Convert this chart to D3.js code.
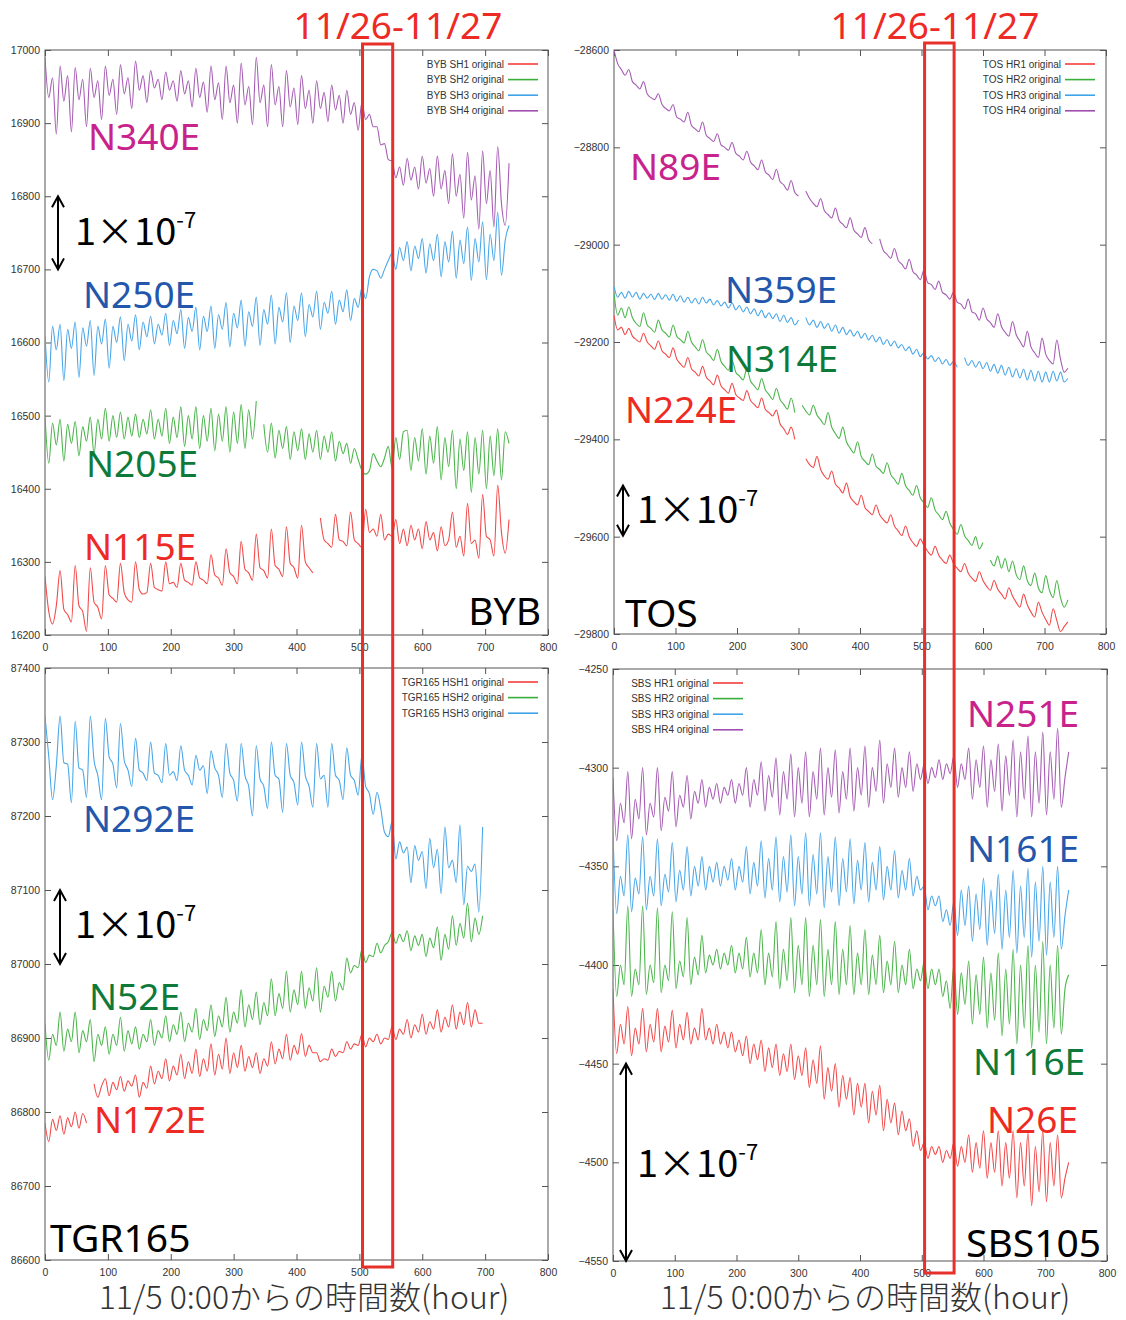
<!DOCTYPE html>
<html>
<head>
<meta charset="utf-8">
<script src="https://cdn.jsdelivr.net/npm/d3@7"></script>
<style>
  body { margin: 0; background: #fff; }
  svg { display: block; }
</style>
</head>
<body>
<svg id="chart" width="1126" height="1320"></svg>
<script>
// sample grid (hours since 11/5 0:00), one reading every 6 h
const hours = d3.range(0, 744, 6);     // 0 .. 738
const hoursTGR = d3.range(0, 702, 6);  // 0 .. 696
const xTicks = d3.range(0, 801, 100);

// ---- BYB ----
const bybSH1 = [
  16280,16232,16215,16240,16288,16235,16228,16218,16295,16240,16232,16205,
  16292,16245,16238,16222,16295,16255,16250,16245,16298,16258,16248,16245,
  16300,16262,16256,16258,16298,16265,16262,16260,16300,16270,16272,16265,
  16298,16275,16272,16268,16300,16278,16275,16270,16310,16282,16278,16268,
  16318,16285,16280,16270,16328,16290,16285,16275,16338,16292,16288,16278,
  16345,16295,16290,16280,16348,16298,16292,16278,16350,16300,16292,16285,
  null,16360,16330,16325,16320,16365,16330,16328,16322,16368,16330,16325,
  16320,16372,16340,16345,16335,16365,16330,16338,16335,16358,16325,16345,
  16322,16350,16330,16345,16318,16355,16330,16340,16315,16348,16322,16330,
  16368,16320,16335,16308,16380,16325,16330,16305,16392,16335,16330,16308,
  16405,16340,16312,16358];
const bybSH2 = [
  16500,16435,16490,16460, 16495,16438,16488,16462, 16492,16445,16485,16465, 16498,16448,16495,16468,
  16510,16465,16500,16470, 16505,16468,16498,16472, 16502,16470,16495,16475, 16508,16468,16495,16472,
  16510,16462,16498,16470, 16512,16458,16500,16468, 16512,16455,16500,16465, 16510,16452,16502,16465,
  16512,16450,16505,16462, 16515,16455,16508,16468, 16520,null,16488,16450, 16490,16442,16480,16455,
  16485,16440,16478,16452, 16482,16440,16475,16450, 16480,16440,16472,16450, 16478,16438,16465,16448,
  16462,16435,16455,16440, 16425,16420,16425,16448, 16438,16430,16442,16458, 16428,16470,16440,16478,
  16480,16425,16470,16438, 16482,16420,16472,16435, 16485,16412,16470,16430, 16480,16400,16468,16425,
  16478,16395,16470,16420, 16480,16400,16472,16418, 16482,16412,16478,16462];
const bybSH3 = [
  16610,16546,16622,16590, 16625,16548,16618,16592, 16628,16552,16620,16595, 16630,16555,16622,16598,
  16632,16565,16622,16600, 16635,16575,16625,16602, 16638,16590,16628,16608, 16636,16598,16625,16610,
  16640,16596,16630,16612, 16645,16592,16634,16615, 16648,16590,16636,16615, 16650,16592,16638,16618,
  16655,16594,16640,16620, 16658,16595,16642,16622, 16662,16596,16645,16625, 16665,16598,16648,16628,
  16668,16600,16650,16630, 16668,16608,16652,16635, 16670,16618,16655,16640, 16670,16625,16658,16642,
  16672,16630,16660,16648, 16675,16660,16690,16700, 16698,16688,16700,16712, 16722,16700,16730,16712,
  16738,16698,16732,16715, 16742,16695,16735,16712, 16748,16690,16738,16710, 16752,16688,16740,16708,
  16758,16685,16742,16710, 16765,16686,16748,16712, 16778,16692,16740,16760];
const bybSH4 = [
  16990,16935,16962,16885, 16978,16930,16965,16888, 16976,16932,16960,16895, 16975,16935,16958,16905,
  16978,16938,16960,16912, 16980,16940,16962,16920, 16985,16945,16965,16928, 16972,16948,16960,16932,
  16970,16945,16958,16930, 16972,16940,16958,16922, 16975,16935,16956,16915, 16978,16932,16955,16905,
  16978,16928,16952,16900, 16982,16925,16950,16898, 16990,16928,16952,16895, 16980,16925,16950,16895,
  16972,16922,16948,16898, 16965,16920,16945,16900, 16958,16920,16942,16902, 16952,16918,16938,16900,
  16945,16912,16928,16890, 16928,16905,16912,16895, 16895,16870,16872,16850, 16848,16825,16840,16815,
  16852,16822,16840,16810, 16855,16818,16838,16800, 16855,16810,16835,16790, 16858,16800,16830,16770,
  16860,16795,16828,16755, 16862,16790,16835,16758, 16868,16790,16760,16845];

// ---- TOS ----
const tosHR1 = [
  -29145,-29175,-29170,-29185,-29172,-29188,-29195,-29200,-29182,-29200,-29208,-29215,
  -29198,-29218,-29225,-29232,-29212,-29235,-29245,-29252,-29232,-29255,-29262,-29270,
  -29250,-29272,-29280,-29288,-29268,-29290,-29298,-29305,-29285,-29308,-29315,-29320,
  -29300,-29320,-29328,-29335,-29315,-29338,-29345,-29352,-29340,-29368,-29378,-29390,
  -29375,-29400,null,null,-29440,-29452,-29458,-29435,-29462,-29475,-29482,-29465,
  -29492,-29500,-29510,-29490,-29518,-29528,-29535,-29515,-29540,-29548,-29555,-29535,
  -29555,-29565,-29572,-29555,-29578,-29588,-29598,-29578,-29600,-29612,-29620,-29605,
  -29618,-29630,-29638,-29620,-29638,-29648,-29655,-29638,-29655,-29665,-29672,-29655,
  -29675,-29685,-29692,-29672,-29690,-29702,-29710,-29690,-29708,-29718,-29728,-29705,
  -29722,-29735,-29745,-29718,-29740,-29755,-29765,-29735,-29755,-29770,-29782,-29748,
  -29772,-29795,-29785,-29775];
const tosHR2 = [
  -29100,-29145,-29130,-29150,-29128,-29150,-29162,-29168,-29140,-29165,-29172,-29180,
  -29155,-29175,-29182,-29190,-29165,-29188,-29195,-29202,-29178,-29200,-29210,-29218,
  -29195,-29220,-29228,-29238,-29215,-29240,-29250,-29258,-29238,-29262,-29270,-29278,
  -29255,-29280,-29290,-29298,-29275,-29298,-29308,-29318,-29295,-29318,-29328,-29338,
  -29315,-29345,null,-29330,-29342,-29350,-29330,-29350,-29360,-29370,-29345,-29375,
  -29388,-29398,-29375,-29405,-29418,-29428,-29405,-29435,-29445,-29452,-29430,-29455,
  -29462,-29470,-29448,-29472,-29482,-29492,-29470,-29495,-29505,-29515,-29495,-29520,
  -29530,-29540,-29520,-29545,-29555,-29565,-29548,-29572,-29585,-29595,-29575,-29598,
  -29608,-29618,-29600,-29625,-29612,null,-29648,-29660,-29640,-29665,-29645,-29672,
  -29650,-29678,-29688,-29660,-29690,-29700,-29675,-29705,-29715,-29680,-29710,-29725,
  -29690,-29725,-29745,-29730];
const tosHR3 = [
  -29085,-29108,-29098,-29110,-29096,-29108,-29098,-29112,-29100,-29110,-29102,-29113,
  -29100,-29112,-29103,-29114,-29102,-29116,-29105,-29118,-29108,-29120,-29110,-29122,
  -29108,-29120,-29112,-29124,-29115,-29126,-29118,-29130,-29120,-29134,-29125,-29138,
  -29128,-29142,-29132,-29146,-29135,-29150,-29140,-29152,-29142,-29158,-29145,-29160,
  -29150,-29165,-29155,null,-29150,-29165,-29155,-29170,-29158,-29172,-29162,-29178,
  -29165,-29182,-29170,-29185,-29175,-29188,-29178,-29192,-29182,-29196,-29186,-29200,
  -29190,-29205,-29195,-29208,-29198,-29212,-29205,-29218,-29210,-29225,-29215,-29230,
  -29222,-29235,-29228,-29240,-29232,-29245,-29236,-29248,-29240,-29252,null,-29232,
  -29248,-29238,-29252,-29240,-29255,-29242,-29260,-29246,-29264,-29248,-29268,-29252,
  -29272,-29255,-29274,-29256,-29278,-29258,-29280,-29260,-29282,-29262,-29282,-29260,
  -29280,-29262,-29282,-29275];
const tosHR4 = [
  -28600,-28628,-28640,-28652,-28640,-28665,-28672,-28680,-28665,-28690,-28698,-28702,
  -28690,-28712,-28720,-28725,-28712,-28738,-28742,-28748,-28728,-28755,-28762,-28768,
  -28748,-28775,-28782,-28788,-28772,-28795,-28800,-28806,-28790,-28812,-28818,-28826,
  -28808,-28830,-28838,-28846,-28826,-28850,-28857,-28866,-28845,-28870,-28877,-28888,
  -28868,-28893,-28900,null,-28890,-28905,-28915,-28922,-28905,-28930,-28938,-28945,
  -28925,-28950,-28958,-28965,-28945,-28970,-28978,-28985,-28965,-28990,-28998,null,
  -28988,-29012,-29020,-29028,-29008,-29032,-29040,-29050,-29030,-29055,-29062,-29072,
  -29052,-29078,-29082,-29092,-29075,-29098,-29103,-29112,-29098,-29118,-29122,-29132,
  -29112,-29138,-29142,-29155,-29130,-29152,-29160,-29170,-29142,-29168,-29180,-29188,
  -29158,-29185,-29198,-29210,-29178,-29210,-29222,-29232,-29192,-29225,-29238,-29245,
  -29196,-29235,-29262,-29254];

// ---- TGR165 (ends at 700 h) ----
const tgrHSH1 = [
  86785,86760,86790,86775, 86795,86770,86792,86780, 86800,86778,86798,86785, null,86838,86820,86835,
  86845,86822,86840,86830, 86848,86828,86842,86835, 86850,86820,86840,86832, 86862,86838,86855,86845,
  86872,86842,86862,86850, 86878,86845,86868,86852, 86885,86848,86872,86855, 86892,86850,86878,86858,
  86900,86852,86880,86860, 86890,86855,86875,86860, 86880,86852,86872,86862, 86895,86865,86885,86872,
  86905,86870,86890,86878, 86906,86875,86890,86880, 86880,86868,86872,86870, 86885,86875,86882,86880,
  86895,86885,86892,86890, 86905,86888,86900,86895, 86905,86892,86900,86898, 86915,86898,86912,86905,
  86925,86900,86918,86908, 86932,86905,86922,86912, 86938,86908,86928,86915, 86945,86912,86935,86918,
  86948,86915,86938,86920, 86920];
const tgrHSH2 = [
  86920,86870,86905,86890, 86935,86882,86912,86895, 86935,86880,86910,86895, 86925,86868,86905,86890,
  86915,86878,86905,86890, 86928,86882,86910,86892, 86915,86885,86905,86895, 86925,86890,86910,86900,
  86930,86895,86918,86905, 86935,86895,86920,86908, 86940,86898,86925,86910, 86945,86902,86930,86915,
  86955,86908,86935,86920, 86965,86915,86945,86925, 86962,86918,86948,86930, 86980,86930,86960,86940,
  86990,86935,86965,86945, 86990,86940,86968,86950, 86995,86935,86970,86955, 86990,86950,86975,86965,
  87008,86988,86998,86995, 87020,87002,87012,87010, 87028,87015,87025,87030, 87042,87028,87040,87030,
  87045,87018,87038,87025, 87040,87010,87035,87022, 87050,87005,87040,87020, 87065,87025,87055,87035,
  87082,87030,87062,87040, 87065];
const tgrHSH3 = [
  87335,87280,87222,87268,87335,87272,87270,87218,87328,87265,87262,87225,
  87335,87275,87255,87222,87332,87280,87270,87238,87325,87275,87262,87240,
  87305,87262,87258,87248,87300,87258,87255,87245,87298,87255,87260,87248,
  87295,87262,87255,87242,87282,87262,87268,87230,87288,87265,87255,87225,
  87298,87258,87248,87220,87298,87255,87240,87200,87295,87250,87240,87210,
  87300,87255,87250,87205,87298,87255,87245,87215,87300,87255,87240,87212,
  87298,87250,87255,87212,87298,87255,87248,87222,87292,87255,87248,87228,
  87282,87240,87230,87202,87232,87210,87178,87172,87192,87142,87165,87150,
  87158,87110,87160,87140,87152,87102,87170,87130,87155,87095,87185,87130,
  87140,87110,87188,87080,87132,87125,87135,87070,87185];

// ---- SBS105 ----
const sbsHR1 = [
  -4412,-4445,-4430,-4440, -4421,-4446,-4432,-4440, -4422,-4444,-4430,-4439, -4422,-4444,-4431,-4439,
  -4423,-4442,-4430,-4438, -4424,-4440,-4432,-4438, -4422,-4438,-4432,-4440, -4430,-4440,-4434,-4442,
  -4434,-4444,-4438,-4446, -4436,-4450,-4440,-4448, -4438,-4454,-4442,-4452, -4440,-4456,-4445,-4454,
  -4440,-4458,-4446,-4456, -4442,-4462,-4448,-4460, -4441,-4468,-4452,-4464, -4450,-4472,-4456,-4468,
  -4457,-4476,-4460,-4472, -4460,-4480,-4464,-4476, -4461,-4484,-4468,-4480, -4470,-4486,-4474,-4484,
  -4478,-4492,-4484,-4494, -4490,-4498,-4492,-4496, -4492,-4500,-4494,-4498, -4490,-4502,-4492,-4500,
  -4486,-4505,-4490,-4503, -4484,-4508,-4490,-4505, -4484,-4512,-4490,-4508, -4484,-4518,-4490,-4512,
  -4485,-4522,-4492,-4515, -4484,-4520,-4490,-4512, -4486,-4518,-4508,-4500];
const sbsHR2 = [
  -4372,-4416,-4400,-4410, -4370,-4416,-4402,-4410, -4370,-4415,-4400,-4409, -4371,-4414,-4400,-4408,
  -4373,-4412,-4398,-4406, -4376,-4410,-4396,-4405, -4385,-4404,-4395,-4400, -4392,-4402,-4394,-4400,
  -4390,-4404,-4394,-4402, -4386,-4406,-4394,-4404, -4382,-4410,-4394,-4406, -4378,-4412,-4392,-4408,
  -4376,-4414,-4390,-4410, -4376,-4416,-4390,-4410, -4377,-4416,-4392,-4410, -4378,-4415,-4392,-4410,
  -4380,-4415,-4394,-4410, -4382,-4415,-4395,-4410, -4385,-4414,-4398,-4410, -4388,-4414,-4400,-4410,
  -4392,-4412,-4402,-4408, -4398,-4412,-4402,-4410, -4402,-4416,-4408,-4422, -4400,-4425,-4404,-4420,
  -4398,-4430,-4405,-4425, -4396,-4432,-4404,-4428, -4394,-4436,-4402,-4430, -4392,-4440,-4400,-4432,
  -4390,-4442,-4400,-4434, -4388,-4440,-4400,-4432, -4390,-4435,-4412,-4405];
const sbsHR3 = [
  -4333,-4374,-4355,-4365, -4334,-4373,-4356,-4364, -4335,-4372,-4355,-4365, -4336,-4370,-4354,-4363,
  -4338,-4368,-4352,-4362, -4340,-4365,-4350,-4360, -4345,-4362,-4350,-4358, -4348,-4360,-4350,-4357,
  -4346,-4362,-4350,-4358, -4340,-4364,-4348,-4360, -4337,-4366,-4346,-4362, -4335,-4368,-4345,-4363,
  -4334,-4370,-4345,-4364, -4333,-4370,-4344,-4364, -4333,-4371,-4345,-4363, -4335,-4370,-4346,-4363,
  -4336,-4369,-4347,-4362, -4338,-4368,-4348,-4362, -4340,-4367,-4350,-4362, -4342,-4366,-4352,-4362,
  -4346,-4365,-4355,-4362, -4360,-4372,-4365,-4370, -4365,-4378,-4372,-4380, -4368,-4385,-4362,-4380,
  -4360,-4388,-4364,-4382, -4356,-4390,-4362,-4384, -4354,-4392,-4362,-4386, -4352,-4394,-4360,-4386,
  -4351,-4396,-4358,-4388, -4350,-4395,-4358,-4386, -4350,-4392,-4375,-4362];
const sbsHR4 = [
  -4305,-4337,-4318,-4328, -4302,-4336,-4316,-4326, -4300,-4334,-4318,-4325, -4300,-4332,-4315,-4322,
  -4302,-4330,-4314,-4320, -4304,-4326,-4312,-4318, -4306,-4320,-4310,-4316, -4308,-4318,-4310,-4314,
  -4306,-4318,-4308,-4314, -4300,-4320,-4306,-4314, -4297,-4322,-4304,-4315, -4295,-4324,-4302,-4316,
  -4293,-4325,-4300,-4318, -4292,-4325,-4302,-4316, -4290,-4324,-4300,-4315, -4291,-4323,-4302,-4316,
  -4290,-4322,-4300,-4314, -4289,-4320,-4300,-4312, -4286,-4318,-4298,-4310, -4290,-4315,-4300,-4310,
  -4292,-4312,-4298,-4306, -4298,-4308,-4300,-4305, -4296,-4306,-4298,-4303, -4294,-4310,-4298,-4306,
  -4290,-4316,-4296,-4310, -4289,-4320,-4296,-4312, -4288,-4322,-4294,-4314, -4286,-4325,-4292,-4316,
  -4284,-4325,-4292,-4318, -4282,-4324,-4292,-4316, -4280,-4320,-4305,-4292];

const lineColor = { r: '#f24a4a', g: '#4bb54b', b: '#48a6e8', p: '#a65cb4' };
const keyColor  = { r: '#f43c3c', g: '#3aae3a', b: '#3fa3ea', p: '#a04fb0' };
const labelColor = { r: '#ee2a24', g: '#0e7a3a', b: '#2257ab', p: '#c8228c' };

const panels = [
  { id: 'byb', box: [45, 50, 548, 635], yDomain: [16200, 17000], yTicks: d3.range(16200, 17001, 100), t: hours,
    series: [['BYB SH1 original', bybSH1, 'r'], ['BYB SH2 original', bybSH2, 'g'], ['BYB SH3 original', bybSH3, 'b'], ['BYB SH4 original', bybSH4, 'p']],
    legend: { x: 504, y: 64 },
    labels: [['N340E', 88, 150, 'p'], ['N250E', 83, 308, 'b'], ['N205E', 86, 477, 'g'], ['N115E', 84, 560, 'r']],
    station: ['BYB', 541, 625, 'end'], arrow: { x: 58, from: 16800, to: 16700 }, scale: [75, 245] },
  { id: 'tos', box: [614, 50, 1106, 634], yDomain: [-29800, -28600], yTicks: d3.range(-29800, -28599, 200), t: hours,
    series: [['TOS HR1 original', tosHR1, 'r'], ['TOS HR2 original', tosHR2, 'g'], ['TOS HR3 original', tosHR3, 'b'], ['TOS HR4 original', tosHR4, 'p']],
    legend: { x: 1061, y: 64 },
    labels: [['N89E', 630, 180, 'p'], ['N359E', 725, 303, 'b'], ['N314E', 726, 372, 'g'], ['N224E', 625, 423, 'r']],
    station: ['TOS', 625, 627, 'start'], arrow: { x: 623, from: -29495, to: -29598 }, scale: [637, 523] },
  { id: 'tgr', box: [45, 668, 548, 1260], yDomain: [86600, 87400], yTicks: d3.range(86600, 87401, 100), t: hoursTGR,
    series: [['TGR165 HSH1 original', tgrHSH1, 'r'], ['TGR165 HSH2 original', tgrHSH2, 'g'], ['TGR165 HSH3 original', tgrHSH3, 'b']],
    legend: { x: 504, y: 682 },
    labels: [['N292E', 83, 832, 'b'], ['N52E', 89, 1010, 'g'], ['N172E', 94, 1133, 'r']],
    station: ['TGR165', 50, 1252, 'start'], arrow: { x: 60, from: 87100, to: 87000 }, scale: [75, 938] },
  { id: 'sbs', box: [613, 669, 1107, 1261], yDomain: [-4550, -4250], yTicks: d3.range(-4550, -4249, 50), t: hours,
    series: [['SBS HR1 original', sbsHR1, 'r'], ['SBS HR2 original', sbsHR2, 'g'], ['SBS HR3 original', sbsHR3, 'b'], ['SBS HR4 original', sbsHR4, 'p']],
    legend: { x: 709, y: 683 },
    labels: [['N251E', 967, 727, 'p'], ['N161E', 967, 862, 'b'], ['N116E', 973, 1075, 'g'], ['N26E', 987, 1133, 'r']],
    station: ['SBS105', 966, 1257, 'start'], arrow: { x: 626, from: -4450, to: -4550 }, scale: [637, 1177] }
];

const svg = d3.select('#chart');
const defs = svg.append('defs');
const tickFont = '"Liberation Sans", Arial, sans-serif';
const labelFont = '"Noto Sans", "Open Sans", sans-serif';
const jpFont = '"Noto Sans CJK JP", "Noto Sans", sans-serif';

panels.forEach(p => {
  const [x0, y0, x1, y1] = p.box;
  const x = d3.scaleLinear().domain([0, 800]).range([x0, x1]);
  const y = d3.scaleLinear().domain(p.yDomain).range([y1, y0]);
  p.x = x;
  p.y = y;

  const g = svg.append('g').attr('class', 'panel-' + p.id);

  defs.append('clipPath').attr('id', 'clip-' + p.id)
    .append('rect').attr('x', x0).attr('y', y0).attr('width', x1 - x0).attr('height', y1 - y0);

  // gnuplot style inward ticks on all four sides
  const styleAxis = sel => {
    sel.select('.domain').remove();
    sel.selectAll('line').attr('stroke', '#555');
    sel.selectAll('text').attr('fill', '#333').style('font-family', tickFont).style('font-size', '10.5px');
  };
  g.append('g').attr('transform', `translate(0,${y1})`)
    .call(d3.axisBottom(x).tickValues(xTicks).tickSize(-6).tickPadding(9)).call(styleAxis);
  g.append('g').attr('transform', `translate(0,${y0})`)
    .call(d3.axisTop(x).tickValues(xTicks).tickSize(-6).tickFormat('')).call(styleAxis);
  g.append('g').attr('transform', `translate(${x0},0)`)
    .call(d3.axisLeft(y).tickValues(p.yTicks).tickSize(-6).tickPadding(5).tickFormat(d3.format('d'))).call(styleAxis);
  g.append('g').attr('transform', `translate(${x1},0)`)
    .call(d3.axisRight(y).tickValues(p.yTicks).tickSize(-6).tickFormat('')).call(styleAxis);

  g.append('rect')
    .attr('x', x0).attr('y', y0).attr('width', x1 - x0).attr('height', y1 - y0)
    .attr('fill', 'none').attr('stroke', '#555').attr('stroke-width', 1);

  // series
  const line = d3.line()
    .defined(d => d[1] != null)
    .x(d => x(d[0]))
    .y(d => y(d[1]))
    .curve(d3.curveMonotoneX);

  const lines = g.append('g').attr('clip-path', `url(#clip-${p.id})`);
  p.series.forEach(([name, values, c]) => {
    const pts = values.map((v, i) => [p.t[i], v]);
    lines.append('path')
      .attr('d', line(pts))
      .attr('fill', 'none')
      .attr('stroke', lineColor[c])
      .attr('stroke-width', 1.1)
      .attr('stroke-linejoin', 'round');
  });

  // key
  p.series.forEach(([name, values, c], i) => {
    const ly = p.legend.y + i * 15.6;
    g.append('text')
      .attr('x', p.legend.x).attr('y', ly).attr('dy', '0.35em')
      .attr('text-anchor', 'end')
      .style('font-family', tickFont).style('font-size', '10px')
      .attr('fill', '#333')
      .text(name);
    g.append('line')
      .attr('x1', p.legend.x + 4).attr('x2', p.legend.x + 34)
      .attr('y1', ly).attr('y2', ly)
      .attr('stroke', keyColor[c]).attr('stroke-width', 1.6);
  });

  // orientation labels
  p.labels.forEach(([text, lx, ly, c]) => {
    g.append('text')
      .attr('x', lx).attr('y', ly)
      .style('font-family', labelFont).style('font-size', '37px')
      .attr('fill', labelColor[c])
      .text(text);
  });

  // station name
  g.append('text')
    .attr('x', p.station[1]).attr('y', p.station[2])
    .attr('text-anchor', p.station[3])
    .style('font-family', labelFont).style('font-size', '39px')
    .attr('fill', '#000')
    .text(p.station[0]);

  // 1e-7 scale arrow
  const ax = p.arrow.x, ya = y(p.arrow.from), yb = y(p.arrow.to);
  g.append('path')
    .attr('d', `M${ax},${ya}L${ax},${yb}M${ax - 6},${ya + 11}L${ax},${ya}L${ax + 6},${ya + 11}M${ax - 6},${yb - 11}L${ax},${yb}L${ax + 6},${yb - 11}`)
    .attr('fill', 'none').attr('stroke', '#000').attr('stroke-width', 2);

  const st = g.append('text')
    .attr('x', p.scale[0]).attr('y', p.scale[1])
    .style('font-family', jpFont).style('font-size', '38px')
    .attr('fill', '#000');
  st.append('tspan').text('1×10');
  st.append('tspan').attr('dy', -17).style('font-size', '22px').text('-7');
});

// x axis titles
[[304, 1309], [865, 1309]].forEach(([cx, cy]) => {
  svg.append('text')
    .attr('x', cx).attr('y', cy)
    .attr('text-anchor', 'middle')
    .style('font-family', jpFont).style('font-size', '32px').style('font-weight', 300)
    .attr('fill', '#333')
    .text('11/5 0:00からの時間数(hour)');
});

// 11/26-11/27 highlight
const boxHours = [505, 553];
[[panels[0], 44, 1267, 398], [panels[1], 43, 1273, 935]].forEach(([p, top, bottom, tx]) => {
  const bx0 = p.x(boxHours[0]), bx1 = p.x(boxHours[1]);
  svg.append('rect')
    .attr('x', bx0).attr('y', top).attr('width', bx1 - bx0).attr('height', bottom - top)
    .attr('fill', 'none').attr('stroke', '#e8302a').attr('stroke-width', 3);
  svg.append('text')
    .attr('x', tx).attr('y', 39)
    .attr('text-anchor', 'middle')
    .style('font-family', labelFont).style('font-size', '37px')
    .attr('fill', '#ee2a24')
    .text('11/26-11/27');
});
</script>
</body>
</html>
